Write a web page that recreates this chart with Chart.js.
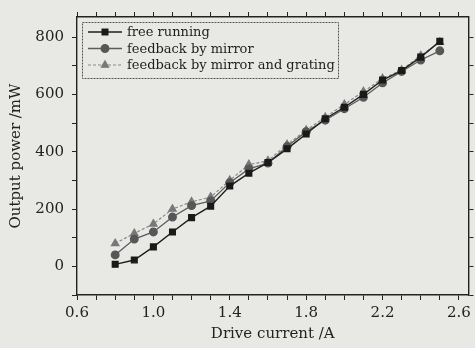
<!DOCTYPE html>
<html>
<head>
<meta charset="utf-8">
<script src="https://cdn.jsdelivr.net/npm/chart.js@4/dist/chart.umd.min.js"></script>
<style>
  html, body { margin: 0; padding: 0; background: #e8e8e5; }
  #wrap { width: 475px; height: 348px; }
</style>
</head>
<body>
<div id="wrap"><canvas id="c" width="475" height="348"></canvas></div>
<script>
// data
const current = [0.8, 0.9, 1.0, 1.1, 1.2, 1.3, 1.4, 1.5, 1.6, 1.7, 1.8, 1.9, 2.0, 2.1, 2.2, 2.3, 2.4, 2.5];
const freeRunning = [7, 22, 68, 120, 170, 210, 280, 325, 362, 410, 462, 515, 555, 600, 650, 683, 730, 785];
const byMirror = [40, 95, 120, 172, 212, 228, 292, 340, 360, 418, 470, 510, 550, 590, 640, 680, 720, 752];
const byMirrorGrating = [80, 115, 148, 200, 225, 242, 300, 355, 368, 425, 475, 520, 565, 610, 655, 685, 735, 782];
const seriesNames = ['free running', 'feedback by mirror', 'feedback by mirror and grating'];

const serif = 'DejaVu Serif';
const toXY = arr => arr.map((v, i) => ({ x: current[i], y: v }));

// legend drawn inside the plot, like the original
const boxLegend = {
  id: 'boxLegend',
  afterDraw(chart) {
    const ctx = chart.ctx;
    ctx.save();
    ctx.strokeStyle = '#555';
    ctx.lineWidth = 1;
    ctx.setLineDash([2, 1]);
    ctx.strokeRect(82.5, 22.5, 256, 56);
    ctx.font = '13px "' + serif + '"';
    ctx.textBaseline = 'middle';
    chart.data.datasets.forEach((ds, i) => {
      const y = 32 + i * 16.5;
      ctx.strokeStyle = ds.borderColor;
      ctx.lineWidth = ds.borderWidth;
      ctx.setLineDash(ds.borderDash || []);
      ctx.beginPath();
      ctx.moveTo(88, y);
      ctx.lineTo(122, y);
      ctx.stroke();
      ctx.setLineDash([]);
      Chart.helpers.drawPoint(ctx, {
        pointStyle: ds.pointStyle,
        radius: ds.pointRadius,
        rotation: 0,
        borderWidth: 1
      }, 105, y);
      ctx.fillStyle = ds.pointBackgroundColor;
      ctx.strokeStyle = ds.pointBorderColor;
      ctx.fill();
      ctx.fillStyle = '#1e1e1e';
      ctx.fillText(ds.label, 127, y + 1);
    });
    ctx.restore();
  }
};

const tickGrid = {
  drawOnChartArea: false,
  drawTicks: true,
  tickLength: 5,
  tickColor: '#222',
  color: '#222'
};
const border = { display: true, color: '#222', width: 1.4 };

new Chart(document.getElementById('c'), {
  type: 'line',
  data: {
    datasets: [{
      label: seriesNames[0],
      data: toXY(freeRunning),
      borderColor: '#1e1e1e',
      borderWidth: 1.4,
      pointStyle: 'rect',
      pointRadius: 4,
      pointBackgroundColor: '#1a1a1a',
      pointBorderColor: '#1a1a1a'
    }, {
      label: seriesNames[1],
      data: toXY(byMirror),
      borderColor: '#5c5c5c',
      borderWidth: 1.3,
      pointStyle: 'circle',
      pointRadius: 3.8,
      pointBackgroundColor: '#575757',
      pointBorderColor: '#575757'
    }, {
      label: seriesNames[2],
      data: toXY(byMirrorGrating),
      borderColor: '#888',
      borderWidth: 1.2,
      borderDash: [3, 2],
      pointStyle: 'triangle',
      pointRadius: 4.3,
      pointBackgroundColor: '#787878',
      pointBorderColor: '#787878'
    }]
  },
  options: {
    responsive: false,
    animation: false,
    layout: { padding: { left: 5, right: 1, top: 0, bottom: 2 } },
    plugins: { legend: { display: false }, tooltip: { enabled: false } },
    scales: {
      x: {
        type: 'linear',
        position: 'bottom',
        min: 0.6,
        max: 2.65,
        grid: tickGrid,
        border: border,
        ticks: {
          stepSize: 0.1,
          includeBounds: false,
          autoSkip: false,
          maxRotation: 0,
          padding: 4,
          color: '#222',
          font: { family: serif, size: 15 },
          callback: v => (Math.round(v * 10) % 4 === 2 ? v.toFixed(1) : '')
        },
        title: {
          display: true,
          text: 'Drive current /A',
          color: '#222',
          font: { family: serif, size: 15 },
          padding: { top: 0, bottom: 3 }
        },
        afterFit: s => { s.height = 51; }
      },
      x2: {
        type: 'linear',
        position: 'top',
        min: 0.6,
        max: 2.65,
        grid: tickGrid,
        border: border,
        ticks: { display: false, stepSize: 0.1, includeBounds: false },
        afterFit: s => { s.height = 9; }
      },
      y: {
        type: 'linear',
        min: -100,
        max: 870,
        grid: tickGrid,
        border: border,
        ticks: {
          stepSize: 100,
          includeBounds: false,
          autoSkip: false,
          padding: 8,
          color: '#222',
          font: { family: serif, size: 15 },
          callback: v => (v % 200 === 0 ? String(v) : '')
        },
        title: {
          display: true,
          text: 'Output power /mW',
          color: '#222',
          font: { family: serif, size: 15 },
          padding: { top: 2, bottom: 4 }
        },
        afterFit: s => { s.width = 72; }
      },
      y2: {
        type: 'linear',
        position: 'right',
        min: -100,
        max: 870,
        grid: tickGrid,
        border: border,
        ticks: { display: false, stepSize: 100, includeBounds: false },
        afterFit: s => { s.width = 2; }
      }
    }
  },
  plugins: [boxLegend]
});
</script>
</body>
</html>
